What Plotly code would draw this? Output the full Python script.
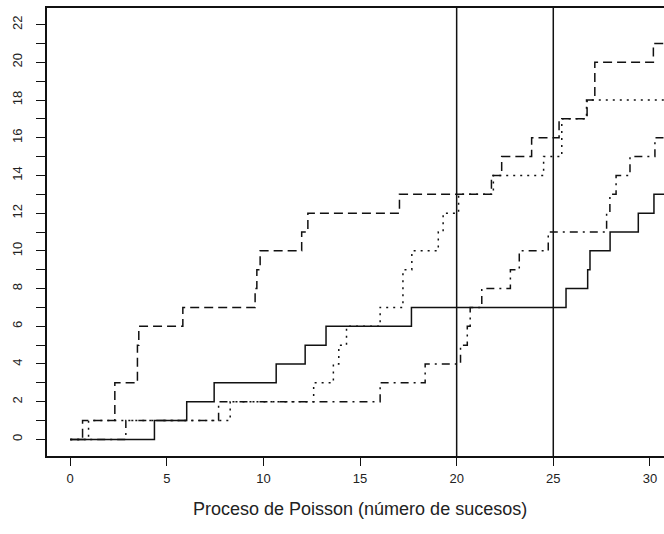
import plotly.graph_objects as go

# Event times (x) and cumulative counts reached at each event (y) for four Poisson paths
solid_t = [4.36, 6.03, 7.45, 10.66, 12.16, 13.24, 17.66, 25.66, 26.78, 26.90, 27.94, 29.40, 30.21]
solid_n = [1, 2, 3, 4, 5, 6, 7, 8, 9, 10, 11, 12, 13]

dashed_t = [0.64, 2.31, 3.48, 3.55, 5.83, 9.57, 9.66, 9.83, 11.98, 12.30, 17.04,
            21.80, 22.33, 23.88, 25.30, 26.75, 27.15, 30.18]
dashed_n = [1, 3, 5, 6, 7, 8, 9, 10, 11, 12, 13, 14, 15, 16, 17, 18, 20, 21]

dotted_t = [0.95, 8.28, 12.60, 13.62, 13.90, 14.30, 16.04, 17.22, 17.68, 19.05, 19.30,
            20.10, 21.90, 24.50, 25.44, 26.72]
dotted_n = [1, 2, 3, 4, 5, 6, 7, 9, 10, 11, 12, 13, 14, 15, 17, 18]

dashdot_t = [2.88, 7.68, 16.04, 18.37, 20.20, 20.55, 20.70, 21.30, 22.78, 23.24, 24.74,
             27.76, 27.93, 28.25, 28.97, 30.26]
dashdot_n = [1, 2, 3, 4, 5, 6, 7, 8, 9, 10, 11, 12, 13, 14, 15, 16]

# Observation instants marked with vertical lines
cut_times = [20, 25]

x_ticks = [0, 5, 10, 15, 20, 25, 30]
y_ticks = list(range(0, 23))
y_ticktext = [str(v) if v % 2 == 0 else "" for v in y_ticks]

T_END = 32.0
FONT = "Liberation Sans, Arial, Helvetica, sans-serif"
INK = "#111111"
TEXT = "#222222"


def path(times, counts):
    xs = [0.0] + list(times) + [T_END]
    ys = [0] + list(counts) + [counts[-1]]
    return xs, ys


fig = go.Figure()

styles = [
    (solid_t, solid_n, "solid"),
    (dashed_t, dashed_n, "9px,5px"),
    (dotted_t, dotted_n, "2px,5px"),
    (dashdot_t, dashdot_n, "2px,5px,8px,5px"),
]
for t, n, dash in styles:
    xs, ys = path(t, n)
    fig.add_trace(go.Scatter(
        x=xs, y=ys, mode="lines", line_shape="hv",
        line=dict(color=INK, width=1.5, dash=dash),
        hoverinfo="skip", showlegend=False,
    ))

for c in cut_times:
    fig.add_shape(type="line", xref="x", yref="paper", x0=c, x1=c, y0=0, y1=1,
                  line=dict(color=INK, width=1.5))

fig.add_annotation(
    text="Proceso de Poisson (número de sucesos)",
    xref="paper", yref="paper", x=0.507, y=-0.118,
    xanchor="center", yanchor="middle", showarrow=False,
    font=dict(family=FONT, size=18, color=TEXT),
)

fig.update_xaxes(
    range=[-1.2, 30.73], tickvals=x_ticks, ticks="outside", ticklen=8,
    tickwidth=1, tickcolor=INK, showline=True, linecolor=INK, linewidth=1.5,
    mirror=True, showgrid=False, zeroline=False, ticklabelstandoff=2,
    tickfont=dict(family=FONT, size=13, color=TEXT),
)
fig.update_yaxes(
    range=[-0.88, 22.88], tickvals=y_ticks, ticktext=y_ticktext, tickangle=-90,
    ticks="outside", ticklen=9, tickwidth=1, tickcolor=INK, showline=True,
    linecolor=INK, linewidth=1.5, mirror=False, showgrid=False, zeroline=False,
    ticklabelstandoff=9,
    tickfont=dict(family=FONT, size=13, color=TEXT),
)

fig.update_layout(
    width=664, height=534,
    margin=dict(l=47, r=0, t=8, b=78, pad=0),
    paper_bgcolor="white", plot_bgcolor="white",
    showlegend=False,
)

fig.write_html("out.html")
